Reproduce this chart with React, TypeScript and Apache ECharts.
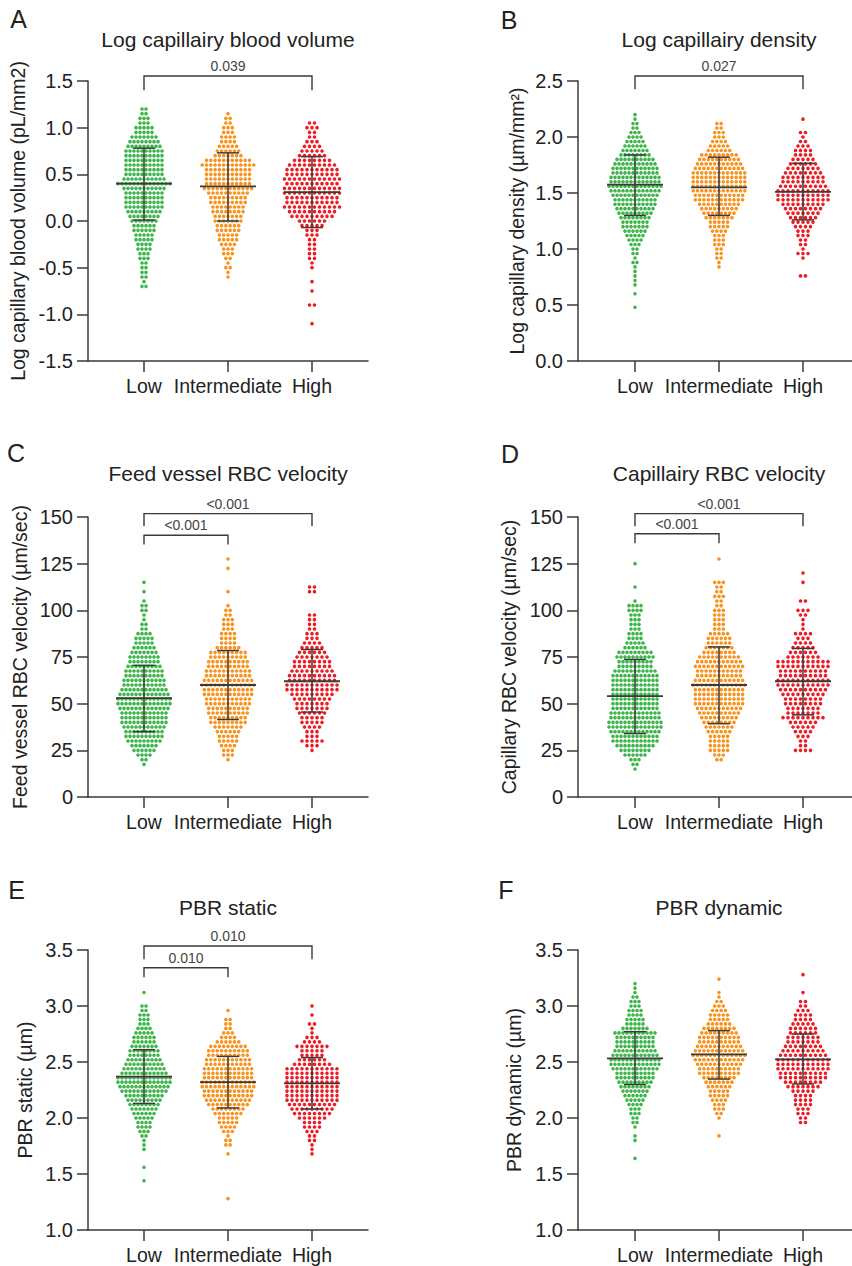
import React, { useEffect, useRef } from "react";
import * as echarts from "echarts";

const categories = ["Low", "Intermediate", "High"];
const groupColors = ["#3db54a", "#f7931e", "#ed1c24"];

// ---------- Panel A: Log capillairy blood volume (counts per row, top -> bottom)
const aStep = 0.05;
const aTops = [1.2, 1.15, 1.05];
const aLow = [2,2,3,3,5,5,7,8,9,10,10,10,10,10,10,11,14,11,10,10,10,10,9,8,7,6,6,5,5,4,4,3,3,2,2,2,2,1,2];
const aInt = [1,2,2,3,3,4,4,5,6,7,11,13,11,11,11,11,12,10,9,9,8,8,7,7,6,6,5,5,4,3,3,2,1,2,1,1];
const aHigh = [2,3,2,2,3,4,5,6,8,10,11,11,12,11,12,12,11,11,12,10,9,6,5,3,3,2,2,2,2,2,1,1,0,0,1,0,1,0,0,2,0,0,0,1];
const aMeans = [0.4, 0.37, 0.31];
const aSdLow = [0.01, 0.0, -0.07];
const aSdHigh = [0.78, 0.73, 0.69];
const aBrackets = [[1, 3, 1.554, 1.4]];
const aBracketLabels = ["0.039"];

// ---------- Panel B: Log capillairy density
const bStep = 0.04;
const bTops = [2.2, 2.12, 2.16];
const bLow = [1,1,2,2,3,4,5,6,7,8,10,11,12,12,13,13,14,13,12,11,11,10,9,8,7,7,6,5,4,3,2,2,1,2,1,1,1,1,1,0,1,0,0,1];
const bInt = [2,2,3,3,4,5,6,9,10,11,12,13,13,13,13,13,12,12,10,9,8,7,5,5,4,3,3,3,2,2,2,1,1];
const bHigh = [1,0,0,2,1,2,3,4,4,5,6,7,8,9,9,10,11,11,11,9,8,7,6,5,4,3,3,2,2,1,3,1,0,0,0,2];
const bMeans = [1.575, 1.55, 1.51];
const bSdLow = [1.3, 1.3, 1.26];
const bSdHigh = [1.84, 1.82, 1.765];
const bBrackets = [[1, 3, 2.545, 2.426]];
const bBracketLabels = ["0.027"];

// ---------- Panel C: Feed vessel RBC velocity
const cStep = 2.5;
const cTops = [115, 127.5, 112.5];
const cLow = [1,0,1,0,1,2,2,1,1,2,2,4,5,5,6,7,8,8,9,10,10,11,11,12,13,14,14,13,12,12,12,11,10,10,9,7,6,4,2,1];
const cInt = [1,0,1,0,0,0,0,1,0,0,1,2,2,3,3,3,4,4,4,6,9,9,10,10,11,11,12,13,12,12,11,11,10,10,9,9,7,6,5,5,4,3,3,1];
const cHigh = [2,2,0,0,0,0,2,2,2,2,3,3,4,5,6,7,8,8,9,10,10,11,11,9,8,7,7,6,5,5,4,3,3,5,3,1];
const cMeans = [53, 60, 62];
const cSdLow = [35, 41.5, 45.5];
const cSdHigh = [70.5, 78.5, 79];
const cBrackets = [[1, 3, 151.8, 145], [1, 2, 140.2, 135.3]];
const cBracketLabels = ["<0.001", "<0.001"];

// ---------- Panel D: Capillairy RBC velocity
const dStep = 2.5;
const dTops = [125, 127.5, 120];
const dLow = [1,0,0,0,0,1,0,0,1,4,4,3,3,3,3,4,4,5,6,9,10,9,9,11,12,12,12,12,12,12,12,12,13,13,14,14,13,12,12,10,8,6,3,2,1];
const dInt = [1,0,0,0,0,3,2,2,3,2,2,3,3,3,3,3,5,6,6,7,8,10,11,12,11,11,12,13,12,12,12,12,11,10,9,8,7,6,5,5,5,5,3,2];
const dHigh = [1,0,1,0,0,0,2,0,3,2,1,1,1,4,3,4,5,6,7,11,11,10,10,11,11,10,9,8,8,7,7,9,6,5,4,3,2,2,4];
const dMeans = [54, 60, 62];
const dSdLow = [34, 39.3, 44];
const dSdHigh = [73.7, 80.4, 79.6];
const dBrackets = [[1, 3, 151.8, 145], [1, 2, 141, 136]];
const dBracketLabels = ["<0.001", "<0.001"];

// ---------- Panel E: PBR static
const eStep = 0.04;
const eTops = [3.12, 2.96, 3.0];
const eLow = [1,0,0,2,2,3,3,3,4,5,6,6,7,8,8,9,10,11,12,14,14,13,12,10,9,8,7,6,5,4,4,3,2,1,1,1,0,0,0,1,0,0,1];
const eInt = [1,0,2,2,2,3,4,6,9,10,10,11,11,12,12,12,13,13,12,12,11,10,8,7,5,5,4,3,1,2,2,0,1,0,0,0,0,0,0,0,0,0,1];
const eHigh = [1,0,1,0,2,1,1,3,4,7,5,5,6,8,11,11,11,11,11,11,11,11,10,9,8,6,4,4,3,2,2,1,1,1];
const eMeans = [2.37, 2.32, 2.31];
const eSdLow = [2.13, 2.09, 2.08];
const eSdHigh = [2.61, 2.55, 2.54];
const eBrackets = [[1, 3, 3.536, 3.417], [1, 2, 3.342, 3.256]];
const eBracketLabels = ["0.010", "0.010"];

// ---------- Panel F: PBR dynamic
const fStep = 0.04;
const fTops = [3.2, 3.24, 3.28];
const fLow = [1,1,1,2,3,3,4,4,5,5,7,11,10,10,10,11,12,13,13,12,10,10,9,8,7,6,5,4,3,3,2,2,1,0,1,1,0,0,0,1];
const fInt = [1,0,0,1,1,2,3,4,5,5,6,8,9,10,10,11,12,13,12,11,10,10,8,7,6,5,5,4,3,3,2,1,0,0,0,1];
const fHigh = [1,0,0,0,1,0,2,2,3,4,4,5,6,6,7,7,8,9,10,11,11,11,10,10,8,7,5,4,4,4,3,3,2,2];
const fMeans = [2.533, 2.568, 2.524];
const fSdLow = [2.3, 2.348, 2.304];
const fSdHigh = [2.771, 2.78, 2.75];
const fBrackets: number[][] = [];
const fBracketLabels: string[] = [];

// ---------- axis scales
const yMins = [-1.5, 0, 0, 0, 1, 1];
const yMaxs = [1.5, 2.5, 150, 150, 3.5, 3.5];
const yIntervals = [0.5, 0.5, 25, 25, 0.5, 0.5];
const yDecimals = [1, 1, 0, 0, 1, 1];

const titles = [
  "Log capillairy blood volume",
  "Log capillairy density",
  "Feed vessel RBC velocity",
  "Capillairy RBC velocity",
  "PBR static",
  "PBR dynamic",
];
const yNames = [
  "Log capillary blood volume (pL/mm2)",
  "Log capillary density (\u00b5m/mm\u00b2)",
  "Feed vessel RBC velocity (\u00b5m/sec)",
  "Capillary RBC velocity (\u00b5m/sec)",
  "PBR static (\u00b5m)",
  "PBR dynamic (\u00b5m)",
];
const letters = ["A", "B", "C", "D", "E", "F"];

const panelData = [
  { step: aStep, tops: aTops, counts: [aLow, aInt, aHigh], means: aMeans, lo: aSdLow, hi: aSdHigh, br: aBrackets, brl: aBracketLabels },
  { step: bStep, tops: bTops, counts: [bLow, bInt, bHigh], means: bMeans, lo: bSdLow, hi: bSdHigh, br: bBrackets, brl: bBracketLabels },
  { step: cStep, tops: cTops, counts: [cLow, cInt, cHigh], means: cMeans, lo: cSdLow, hi: cSdHigh, br: cBrackets, brl: cBracketLabels },
  { step: dStep, tops: dTops, counts: [dLow, dInt, dHigh], means: dMeans, lo: dSdLow, hi: dSdHigh, br: dBrackets, brl: dBracketLabels },
  { step: eStep, tops: eTops, counts: [eLow, eInt, eHigh], means: eMeans, lo: eSdLow, hi: eSdHigh, br: eBrackets, brl: eBracketLabels },
  { step: fStep, tops: fTops, counts: [fLow, fInt, fHigh], means: fMeans, lo: fSdLow, hi: fSdHigh, br: fBrackets, brl: fBracketLabels },
];

// ---------- layout (pixels)
const PX_PER_CAT = 84;
const RIGHT_MIN = 1 - 57 / PX_PER_CAT;
const layout = [
  { left: 88, top: 81, width: 280, xMin: 1 / 3, xMax: 11 / 3, nameGap: 60, tx: 228, ty: 39, lx: 18.5, ly: 19 },
  { left: 578, top: 81, width: 274, xMin: RIGHT_MIN, xMax: RIGHT_MIN + 274 / PX_PER_CAT, nameGap: 51, tx: 719, ty: 39, lx: 509, ly: 20 },
  { left: 88, top: 517, width: 280, xMin: 1 / 3, xMax: 11 / 3, nameGap: 58, tx: 228, ty: 473, lx: 16, ly: 453 },
  { left: 578, top: 517, width: 274, xMin: RIGHT_MIN, xMax: RIGHT_MIN + 274 / PX_PER_CAT, nameGap: 59, tx: 719, ty: 473, lx: 510, ly: 454 },
  { left: 88, top: 950, width: 280, xMin: 1 / 3, xMax: 11 / 3, nameGap: 53, tx: 228, ty: 907, lx: 16.5, ly: 890 },
  { left: 578, top: 950, width: 274, xMin: RIGHT_MIN, xMax: RIGHT_MIN + 274 / PX_PER_CAT, nameGap: 54, tx: 719, ty: 907, lx: 506, ly: 890 },
];
const PLOT_H = 280;
const groupPitchPx = [4, 4.3, 5];
const FONT = "'Liberation Sans', Arial, Helvetica, sans-serif";
const INK = "#222";
const LINE = "#3a3a3a";

function swarm(counts: number[], top: number, step: number, cat: number, pitchPx: number) {
  const pts: number[][] = [];
  counts.forEach((n, i) => {
    const y = +(top - i * step).toFixed(4);
    for (let k = 0; k < n; k++) {
      const off = ((k - (n - 1) / 2) * pitchPx) / PX_PER_CAT;
      pts.push([cat + off, y]);
    }
  });
  return pts;
}

function buildOption() {
  const grid: any[] = [];
  const xAxis: any[] = [];
  const yAxis: any[] = [];
  const series: any[] = [];
  const graphic: any[] = [];

  layout.forEach((L, p) => {
    const D = panelData[p];
    grid.push({ left: L.left, top: L.top, width: L.width, height: PLOT_H, containLabel: false });
    xAxis.push({
      type: "value",
      gridIndex: p,
      min: L.xMin,
      max: L.xMax,
      splitLine: { show: false },
      axisLine: { show: true, onZero: false, lineStyle: { color: LINE, width: 1.5 } },
      axisTick: { show: true, customValues: [1, 2, 3], length: 11, lineStyle: { color: LINE, width: 1.5 } },
      axisLabel: {
        customValues: [1, 2, 3],
        formatter: (v: number) => categories[Math.round(v) - 1] || "",
        fontSize: 19.5,
        fontFamily: FONT,
        color: INK,
        margin: 15,
      },
    });
    yAxis.push({
      type: "value",
      gridIndex: p,
      min: yMins[p],
      max: yMaxs[p],
      interval: yIntervals[p],
      name: yNames[p],
      nameLocation: "middle",
      nameGap: L.nameGap,
      nameTextStyle: { fontSize: 19.5, fontFamily: FONT, color: INK },
      splitLine: { show: false },
      axisLine: { show: true, onZero: false, lineStyle: { color: LINE, width: 1.5 } },
      axisTick: { show: true, length: 11, lineStyle: { color: LINE, width: 1.5 } },
      axisLabel: {
        formatter: (v: number) => v.toFixed(yDecimals[p]),
        fontSize: 20,
        fontFamily: FONT,
        color: INK,
        margin: 15,
      },
    });

    D.counts.forEach((cnt, g) => {
      series.push({
        type: "scatter",
        xAxisIndex: p,
        yAxisIndex: p,
        data: swarm(cnt, D.tops[g], D.step, g + 1, groupPitchPx[g]),
        symbol: "circle",
        symbolSize: 3.6,
        itemStyle: { color: groupColors[g], opacity: 1 },
        silent: true,
        z: 2,
      });
    });

    series.push({
      type: "custom",
      xAxisIndex: p,
      yAxisIndex: p,
      silent: true,
      z: 5,
      data: [0, 1, 2].map((g) => [g + 1, D.means[g], D.lo[g], D.hi[g]]),
      renderItem: (params: any, api: any) => {
        const x = api.value(0);
        const pm = api.coord([x, api.value(1)]);
        const pl = api.coord([x, api.value(2)]);
        const ph = api.coord([x, api.value(3)]);
        const st = { stroke: LINE, lineWidth: 1.5 };
        return {
          type: "group",
          children: [
            { type: "line", shape: { x1: pl[0], y1: pl[1], x2: ph[0], y2: ph[1] }, style: st },
            { type: "line", shape: { x1: pl[0] - 11, y1: pl[1], x2: pl[0] + 11, y2: pl[1] }, style: st },
            { type: "line", shape: { x1: ph[0] - 11, y1: ph[1], x2: ph[0] + 11, y2: ph[1] }, style: st },
            { type: "line", shape: { x1: pm[0] - 28, y1: pm[1], x2: pm[0] + 28, y2: pm[1] }, style: { stroke: LINE, lineWidth: 1.8 } },
          ],
        };
      },
    });

    if (D.br.length) {
      series.push({
        type: "custom",
        xAxisIndex: p,
        yAxisIndex: p,
        silent: true,
        clip: false,
        z: 6,
        data: D.br,
        renderItem: (params: any, api: any) => {
          const a = api.coord([api.value(0), api.value(2)]);
          const b = api.coord([api.value(1), api.value(2)]);
          const aL = api.coord([api.value(0), api.value(3)]);
          const bL = api.coord([api.value(1), api.value(3)]);
          return {
            type: "group",
            children: [
              {
                type: "polyline",
                shape: { points: [aL, a, b, bL] },
                style: { stroke: LINE, lineWidth: 1.4, fill: "none" },
              },
              {
                type: "text",
                x: (a[0] + b[0]) / 2,
                y: a[1] - 10,
                style: {
                  text: D.brl[params.dataIndex],
                  fill: "#444",
                  font: `14px ${FONT}`,
                  textAlign: "center",
                  textVerticalAlign: "middle",
                  align: "center",
                  verticalAlign: "middle",
                },
              },
            ],
          };
        },
      });
    }

    graphic.push({
      type: "text",
      x: L.tx,
      y: L.ty,
      silent: true,
      style: {
        text: titles[p],
        fill: INK,
        font: `21px ${FONT}`,
        textAlign: "center",
        textVerticalAlign: "middle",
        align: "center",
        verticalAlign: "middle",
      },
    });
    graphic.push({
      type: "text",
      x: L.lx,
      y: L.ly,
      silent: true,
      style: {
        text: letters[p],
        fill: INK,
        font: `25px ${FONT}`,
        textAlign: "center",
        textVerticalAlign: "middle",
        align: "center",
        verticalAlign: "middle",
      },
    });
  });

  return {
    animation: false,
    backgroundColor: "#ffffff",
    grid,
    xAxis,
    yAxis,
    series,
    graphic,
  };
}

export default function App() {
  const ref = useRef<HTMLDivElement>(null);
  useEffect(() => {
    if (!ref.current) return;
    const chart = echarts.init(ref.current, undefined, { renderer: "svg" });
    chart.setOption(buildOption() as any);
    return () => chart.dispose();
  }, []);
  return (
    <div
      ref={ref}
      style={{ position: "absolute", left: 0, top: 0, width: 852, height: 1266, background: "#fff" }}
    />
  );
}
